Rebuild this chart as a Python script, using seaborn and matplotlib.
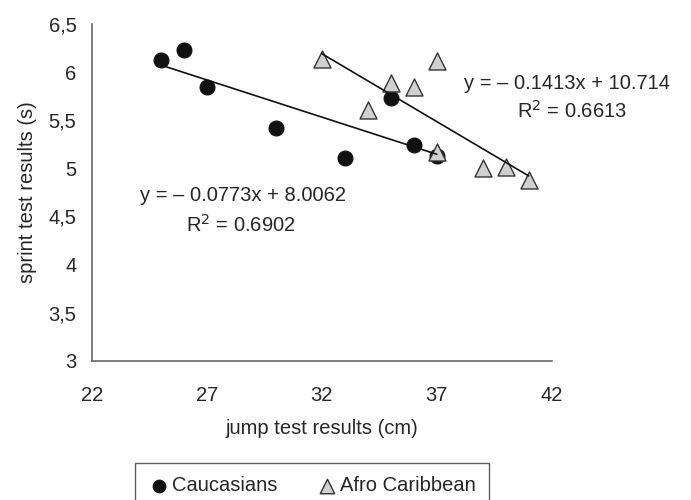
import numpy as np
import pandas as pd
import matplotlib
matplotlib.use("Agg")
import matplotlib.pyplot as plt
import seaborn as sns

# data
cauc_jump = [25, 26, 27, 30, 33, 35, 36, 37]
cauc_sprint = [6.13, 6.23, 5.84, 5.42, 5.11, 5.73, 5.24, 5.13]
afro_jump = [32, 34, 35, 36, 37, 37, 39, 40, 41]
afro_sprint = [6.14, 5.61, 5.89, 5.85, 6.12, 5.17, 5.00, 5.01, 4.88]

# trendline coefficients as printed on the chart
cauc_fit = (-0.0773, 8.0062, 0.6902)
afro_fit = (-0.1413, 10.714, 0.6613)

x_ticks = [22, 27, 32, 37, 42]
y_ticks = [3, 3.5, 4, 4.5, 5, 5.5, 6, 6.5]
y_tick_labels = ["3", "3,5", "4", "4,5", "5", "5,5", "6", "6,5"]

FS = 14.5

sns.set_style("white")
plt.rcParams["font.family"] = ["Liberation Sans", "DejaVu Sans"]

df = pd.concat([
    pd.DataFrame({"jump": cauc_jump, "sprint": cauc_sprint, "group": "Caucasians"}),
    pd.DataFrame({"jump": afro_jump, "sprint": afro_sprint, "group": "Afro Caribbean"}),
])

fig = plt.figure(figsize=(6.91, 5), dpi=100)
ax = fig.add_axes([0.1327, 0.2786, 0.6657, 0.6734])

sns.scatterplot(data=df[df.group == "Caucasians"], x="jump", y="sprint",
                marker="o", s=115, color="#111111", edgecolor="#111111",
                linewidth=0.8, ax=ax, label="Caucasians", zorder=3)
sns.scatterplot(data=df[df.group == "Afro Caribbean"], x="jump", y="sprint",
                marker="^", s=150, color="#d0d0d0", edgecolor="#333333",
                linewidth=1.0, ax=ax, label="Afro Caribbean", zorder=4)

# trendlines over each group's x range
for xs, (m, b, r2) in [(cauc_jump, cauc_fit), (afro_jump, afro_fit)]:
    lx = np.array([min(xs), max(xs)])
    ax.plot(lx, m * lx + b, color="#111111", lw=1.2, zorder=5)

ax.text(38.2, 5.885, "y = \u2013 0.1413x + 10.714", fontsize=FS, ha="left", va="center")
ax.text(42.9, 5.60, "R$^2$ = 0.6613", fontsize=FS, ha="center", va="center")
ax.text(24.1, 4.72, "y = \u2013 0.0773x + 8.0062", fontsize=FS, ha="left", va="center")
ax.text(28.5, 4.41, "R$^2$ = 0.6902", fontsize=FS, ha="center", va="center")

ax.set_xlim(22, 42)
ax.set_ylim(3, 6.5)
ax.set_xticks(x_ticks)
ax.set_xticklabels([str(v) for v in x_ticks])
ax.set_yticks(y_ticks)
ax.set_yticklabels(y_tick_labels)
ax.tick_params(axis="both", labelsize=FS, direction="out", length=5, width=1,
               color="#666666", pad=6)
ax.tick_params(axis="x", pad=13)
for side in ["top", "right"]:
    ax.spines[side].set_visible(False)
for side in ["left", "bottom"]:
    ax.spines[side].set_color("#666666")
    ax.spines[side].set_linewidth(1.2)

ax.set_xlabel("jump test results (cm)", fontsize=FS, labelpad=10)
ax.set_ylabel("sprint test results (s)", fontsize=FS, labelpad=8)

ax.legend_.remove()
handles, labels = ax.get_legend_handles_labels()
leg = fig.legend(handles, labels, loc="upper center", bbox_to_anchor=(0.452, 0.074),
                 ncol=2, frameon=True, fancybox=False, fontsize=FS,
                 handlelength=1.0, handletextpad=0.15, columnspacing=2.0,
                 borderpad=0.65, borderaxespad=0.0, markerscale=0.85)
leg.get_frame().set_edgecolor("#333333")
leg.get_frame().set_linewidth(1.0)

fig.savefig("out.png", dpi=100)
